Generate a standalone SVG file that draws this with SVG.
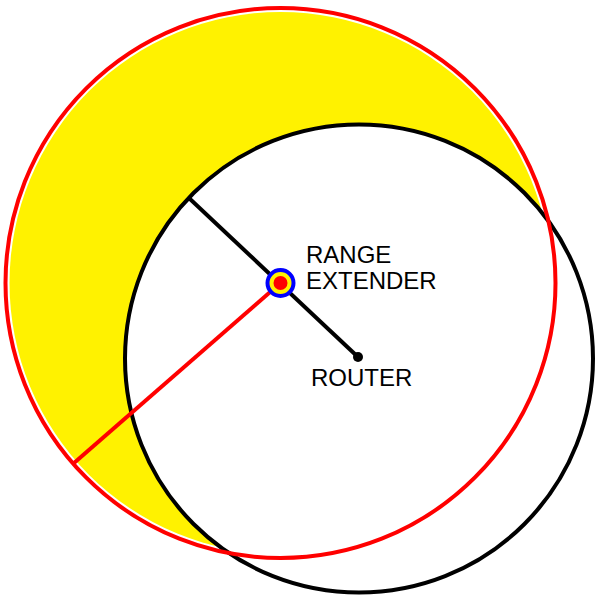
<svg xmlns="http://www.w3.org/2000/svg" width="616" height="604" viewBox="0 0 616 604">
  <style>
    .lbl { font-family: "Liberation Sans", Arial, sans-serif; font-size: 24px; fill: #000; }
  </style>
  <rect width="616" height="604" fill="#fff"/>
  <g id="coverage">
    <circle id="extender-coverage-fill" cx="280.5" cy="283" r="271" fill="#fff200"/>
    <circle id="router-coverage" cx="359" cy="358.5" r="234" fill="#fff" stroke="#000" stroke-width="4"/>
    <circle id="extender-coverage" cx="280.5" cy="283" r="275" fill="none" stroke="#ff0000" stroke-width="4"/>
  </g>
  <g id="connectors">
    <line x1="358" y1="357" x2="190" y2="199" stroke="#000" stroke-width="4"/>
    <line x1="280.5" y1="283" x2="74" y2="463" stroke="#ff0000" stroke-width="4"/>
  </g>
  <g id="router">
    <circle cx="358" cy="357" r="5" fill="#000"/>
    <text class="lbl" x="311" y="386">ROUTER</text>
  </g>
  <g id="range-extender">
    <circle cx="280.5" cy="283" r="13" fill="#fff200" stroke="#0000ff" stroke-width="4"/>
    <circle cx="280.5" cy="283" r="7" fill="#ff0000"/>
    <text class="lbl" x="306" y="262.5">RANGE</text>
    <text class="lbl" x="306" y="288.5">EXTENDER</text>
  </g>
</svg>
